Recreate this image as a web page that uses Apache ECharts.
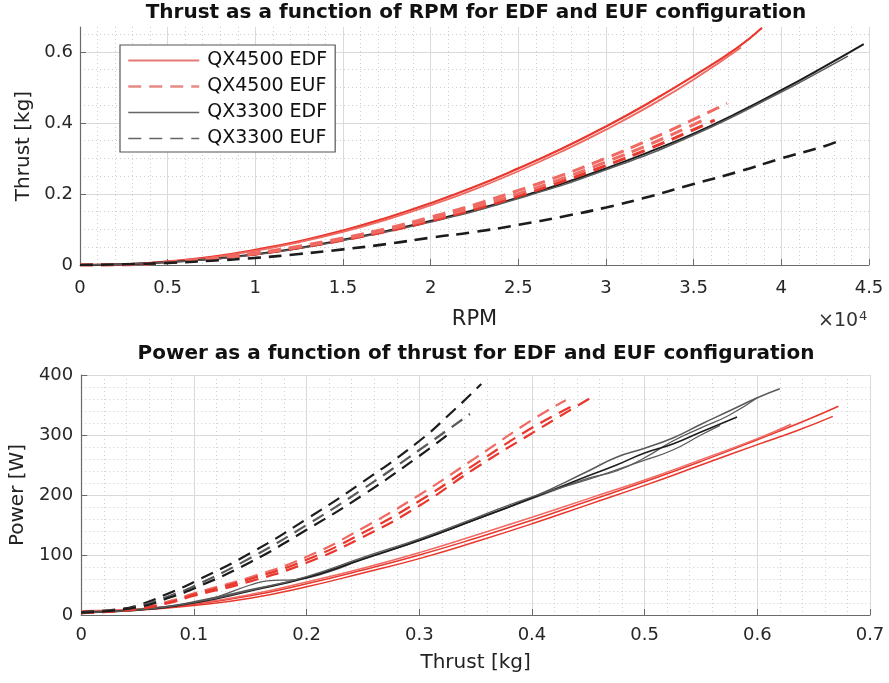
<!DOCTYPE html>
<html>
<head>
<meta charset="utf-8">
<script src="https://cdn.jsdelivr.net/npm/echarts@6/dist/echarts.min.js"></script>
<style>
  html, body { margin: 0; padding: 0; background: #fff; }
  #chart { width: 889px; height: 683px; }
</style>
</head>
<body>
<div id="chart"></div>
<script>
// ---- top panel: thrust [kg] vs RPM ----
const rpmEdf4500A = [[0,0],[2500,0.002],[5000,0.01],[7500,0.023],[10000,0.043],[12500,0.067],[15000,0.097],[17500,0.133],[20000,0.174],[22500,0.22],[25000,0.272],[27500,0.328],[30000,0.39],[32500,0.458],[35000,0.532],[37500,0.612],[38900,0.668]];
const rpmEdf4500B = [[0,0],[2500,0.002],[5000,0.009],[7500,0.021],[10000,0.04],[12500,0.064],[15000,0.093],[17500,0.128],[20000,0.168],[22500,0.213],[25000,0.264],[27500,0.32],[30000,0.381],[32500,0.448],[35000,0.522],[37700,0.612]];
const rpmEuf4500A = [[0,0],[2500,0.001],[5000,0.008],[7500,0.019],[10000,0.034],[12500,0.053],[15000,0.076],[17500,0.103],[20000,0.135],[22500,0.17],[25000,0.21],[27500,0.253],[30000,0.301],[32500,0.353],[35000,0.41],[36900,0.455]];
const rpmEuf4500B = [[0,0],[2500,0.001],[5000,0.007],[7500,0.017],[10000,0.031],[12500,0.049],[15000,0.07],[17500,0.095],[20000,0.124],[22500,0.157],[25000,0.194],[27500,0.235],[30000,0.28],[32500,0.328],[35000,0.381],[36200,0.408]];
const rpmEuf4500C = [[0,0],[2500,0.001],[5000,0.0075],[7500,0.018],[10000,0.032],[12500,0.051],[15000,0.073],[17500,0.099],[20000,0.129],[22500,0.163],[25000,0.201],[27500,0.243],[30000,0.29],[32500,0.34],[35000,0.395],[35800,0.415]];
const rpmEdf3300A = [[0,0],[2500,0.002],[5000,0.008],[7500,0.017],[10000,0.03],[12500,0.048],[15000,0.071],[17500,0.096],[20000,0.124],[22500,0.155],[25000,0.19],[27500,0.229],[30000,0.272],[32500,0.319],[35000,0.37],[37500,0.428],[40000,0.492],[42500,0.56],[44700,0.622]];
const rpmEdf3300B = [[0,0],[5000,0.008],[10000,0.029],[15000,0.069],[20000,0.121],[25000,0.187],[30000,0.268],[35000,0.366],[40000,0.487],[42500,0.553],[43800,0.588]];
const rpmEuf3300 = [[0,0],[2500,0.002],[5000,0.006],[7500,0.012],[10000,0.02],[12500,0.031],[15000,0.044],[17500,0.059],[20000,0.077],[22500,0.093],[25000,0.113],[27500,0.136],[30000,0.162],[32500,0.193],[35000,0.228],[37500,0.262],[40000,0.3],[42500,0.335],[43400,0.352]];

// ---- bottom panel: power [W] vs thrust [kg] ----
const pwrEdf4500A = [[0,6],[0.05,9],[0.1,18],[0.15,32],[0.2,52],[0.25,75],[0.3,100],[0.35,128],[0.4,158],[0.45,190],[0.5,222],[0.55,256],[0.6,292],[0.64,322],[0.672,348]];
const pwrEdf4500B = [[0,5],[0.05,8],[0.1,16],[0.15,28],[0.2,47],[0.25,70],[0.3,94],[0.35,122],[0.4,152],[0.45,184],[0.5,216],[0.55,250],[0.6,284],[0.635,307],[0.667,331]];
const pwrEdf4500C = [[0,7],[0.05,10],[0.1,19],[0.15,34],[0.2,55],[0.25,78],[0.3,104],[0.35,133],[0.4,163],[0.45,194],[0.5,225],[0.55,259],[0.6,294],[0.63,318]];
const pwrEuf4500A = [[0,4],[0.05,11],[0.08,24],[0.1,36],[0.15,63],[0.2,97],[0.25,145],[0.3,200],[0.35,262],[0.4,325],[0.43,358]];
const pwrEuf4500B = [[0,3],[0.05,10],[0.08,21],[0.1,32],[0.15,56],[0.2,87],[0.25,130],[0.3,182],[0.35,245],[0.4,303],[0.453,363]];
const pwrEuf4500C = [[0,3],[0.05,10],[0.08,22],[0.1,34],[0.15,60],[0.2,92],[0.25,137],[0.3,190],[0.35,252],[0.4,312],[0.44,352]];
const pwrEdf3300A = [[0,5],[0.03,7],[0.05,9],[0.08,15],[0.1,22],[0.15,42],[0.2,63],[0.25,94],[0.3,125],[0.35,160],[0.4,196],[0.45,240],[0.475,263],[0.5,278],[0.525,295],[0.55,318],[0.575,340],[0.6,362],[0.62,377]];
const pwrEdf3300B = [[0,5],[0.05,9],[0.1,21],[0.12,30],[0.15,50],[0.165,57],[0.19,59],[0.22,72],[0.25,93],[0.3,124],[0.35,159],[0.4,194],[0.45,228],[0.475,240],[0.5,262],[0.525,290],[0.55,312],[0.575,333],[0.6,362]];
const pwrEdf3300C = [[0,4],[0.05,8],[0.1,20],[0.15,40],[0.2,62],[0.25,93],[0.3,124],[0.35,159],[0.4,195],[0.45,232],[0.475,250],[0.5,270],[0.525,285],[0.55,305],[0.582,330]];
const pwrEdf3300D = [[0,4],[0.05,8],[0.1,21],[0.15,41],[0.2,64],[0.25,96],[0.3,127],[0.35,162],[0.4,197],[0.45,226],[0.475,242],[0.5,258],[0.525,275],[0.55,300],[0.567,316]];
const pwrEuf3300A = [[0,5],[0.03,9],[0.05,16],[0.08,38],[0.1,55],[0.15,103],[0.2,160],[0.25,222],[0.3,290],[0.33,340],[0.355,385]];
const pwrEuf3300B = [[0,4],[0.03,8],[0.05,14],[0.08,33],[0.1,48],[0.15,95],[0.2,150],[0.25,210],[0.3,275],[0.345,335]];
const pwrEuf3300C = [[0,4],[0.05,13],[0.08,30],[0.1,44],[0.15,88],[0.2,142],[0.25,200],[0.3,265],[0.325,300]];

const legendNames = ['QX4500 EDF', 'QX4500 EUF', 'QX3300 EDF', 'QX3300 EUF'];

const RED = '#e8382e';
const RED_LIGHT = '#ef6a62';
const BLACK = '#1c1c1c';
const GRAY = '#5a5a5a';
const FONT = 'DejaVu Sans';

function line(name, data, color, width, dashed, panel) {
  return {
    name: name,
    type: 'line',
    data: data,
    xAxisIndex: panel,
    yAxisIndex: panel,
    symbol: 'none',
    smooth: true,
    lineStyle: { color: color, width: width, type: dashed ? [13, 8] : 'solid' },
    itemStyle: { color: color },
    z: dashed ? 3 : 2
  };
}

const axisCommon = {
  axisLine: { show: true, onZero: false, lineStyle: { color: '#6a6a6a', width: 1.2 } },
  axisTick: { show: true, inside: true, length: 6, lineStyle: { color: '#6a6a6a' } },
  splitLine: { show: true, lineStyle: { color: '#dadada', width: 1 } },
  minorTick: { show: false },
  minorSplitLine: { show: true, lineStyle: { color: '#cfcfcf', width: 1, type: [1, 3] } },
  nameLocation: 'middle',
  nameTextStyle: { fontFamily: FONT, fontSize: 20, color: '#222' }
};

const chart = echarts.init(document.getElementById('chart'));

chart.setOption({
  backgroundColor: '#fff',
  animation: false,
  grid: [
    { left: 80, right: 20, top: 27, bottom: 418 },
    { left: 80, right: 19, top: 375, bottom: 68 }
  ],
  legend: {
    left: 120,
    top: 45,
    orient: 'vertical',
    padding: [6, 8, 4, 7],
    itemWidth: 71,
    itemHeight: 14,
    itemGap: 7,
    borderColor: '#555',
    borderWidth: 1.2,
    backgroundColor: '#fff',
    itemStyle: { opacity: 0 },
    textStyle: { fontFamily: FONT, fontSize: 19, color: '#111', padding: [0, 0, 0, 3] },
    data: [
      { name: legendNames[0], lineStyle: { color: '#e47a74', width: 2 } },
      { name: legendNames[1], lineStyle: { color: '#e88a84', width: 2.5 } },
      { name: legendNames[2], lineStyle: { color: '#666', width: 1.6 } },
      { name: legendNames[3], lineStyle: { color: '#666', width: 1.6 } }
    ]
  },
  xAxis: [
    Object.assign({}, axisCommon, {
      gridIndex: 0, type: 'value', min: 0, max: 45000, interval: 5000,
      minorTick: { show: false, splitNumber: 5 },
      name: 'RPM', nameGap: 44,
      nameTextStyle: { fontFamily: FONT, fontSize: 21, color: '#222' },
      axisLabel: { fontFamily: FONT, fontSize: 18, color: '#262626', margin: 14,
        formatter: v => String(v / 10000) }
    }),
    Object.assign({}, axisCommon, {
      gridIndex: 1, type: 'value', min: 0, max: 0.7, interval: 0.1,
      minorTick: { show: false, splitNumber: 5 },
      name: 'Thrust [kg]', nameGap: 38,
      axisLabel: { fontFamily: FONT, fontSize: 18, color: '#262626', margin: 11 }
    })
  ],
  yAxis: [
    Object.assign({}, axisCommon, {
      gridIndex: 0, type: 'value', min: 0, max: 0.67, interval: 0.2,
      minorTick: { show: false, splitNumber: 4 },
      splitLine: { show: true, showMaxLine: false, lineStyle: { color: '#dadada', width: 1 } },
      name: 'Thrust [kg]', nameGap: 43,
      axisLabel: { fontFamily: FONT, fontSize: 18, color: '#262626', margin: 7, showMaxLabel: false }
    }),
    Object.assign({}, axisCommon, {
      gridIndex: 1, type: 'value', min: 0, max: 400, interval: 100,
      minorTick: { show: false, splitNumber: 5 },
      name: 'Power [W]', nameGap: 47,
      axisLabel: { fontFamily: FONT, fontSize: 18, color: '#262626', margin: 8 }
    })
  ],
  graphic: [
    { type: 'text', x: 476, y: 3, style: { text: 'Thrust as a function of RPM for EDF and EUF configuration',
      fontFamily: FONT, fontSize: 20, fontWeight: 'bold', fill: '#111', textAlign: 'center' } },
    { type: 'text', x: 476, y: 344, style: { text: 'Power as a function of thrust for EDF and EUF configuration',
      fontFamily: FONT, fontSize: 20, fontWeight: 'bold', fill: '#111', textAlign: 'center' } },
    { type: 'text', x: 818, y: 310, style: { text: '×10{s|4}', fontFamily: FONT, fontSize: 19, fill: '#333',
      rich: { s: { fontFamily: FONT, fontSize: 13, fill: '#333', verticalAlign: 'top', padding: [0, 0, 10, 1] } } } }
  ],
  series: [
    line(legendNames[0], rpmEdf4500A, RED, 2.2, false, 0),
    line(legendNames[0], rpmEdf4500B, RED_LIGHT, 1.8, false, 0),
    line(legendNames[1], rpmEuf4500A, RED_LIGHT, 3, true, 0),
    line(legendNames[1], rpmEuf4500B, RED, 3, true, 0),
    line(legendNames[1], rpmEuf4500C, RED_LIGHT, 3, true, 0),
    line(legendNames[2], rpmEdf3300A, BLACK, 2, false, 0),
    line(legendNames[2], rpmEdf3300B, GRAY, 1.5, false, 0),
    line(legendNames[3], rpmEuf3300, BLACK, 2.6, true, 0),

    line(legendNames[0], pwrEdf4500A, RED, 1.5, false, 1),
    line(legendNames[0], pwrEdf4500B, RED, 1.5, false, 1),
    line(legendNames[0], pwrEdf4500C, RED_LIGHT, 1.5, false, 1),
    line(legendNames[1], pwrEuf4500A, RED_LIGHT, 2.2, true, 1),
    line(legendNames[1], pwrEuf4500B, RED, 2.2, true, 1),
    line(legendNames[1], pwrEuf4500C, RED, 2.2, true, 1),
    line(legendNames[2], pwrEdf3300A, GRAY, 1.5, false, 1),
    line(legendNames[2], pwrEdf3300B, GRAY, 1.3, false, 1),
    line(legendNames[2], pwrEdf3300C, BLACK, 1.6, false, 1),
    line(legendNames[2], pwrEdf3300D, GRAY, 1.3, false, 1),
    line(legendNames[3], pwrEuf3300A, BLACK, 2.2, true, 1),
    line(legendNames[3], pwrEuf3300B, GRAY, 2.2, true, 1),
    line(legendNames[3], pwrEuf3300C, BLACK, 2.2, true, 1)
  ]
});
</script>
</body>
</html>
